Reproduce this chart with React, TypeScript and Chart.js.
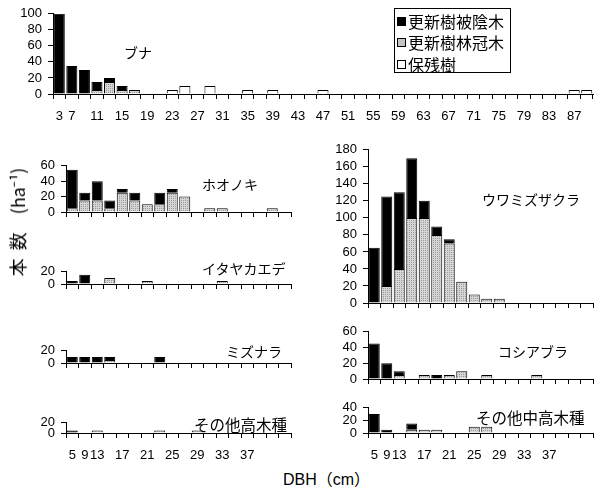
import React, { useEffect, useRef } from 'react';
import { Chart, registerables } from 'chart.js';
Chart.register(...registerables);

// ---------- data ----------
// ブナ (top panel), 43 DBH classes
const bunaTickLabels = ["3","7","","11","","15","","19","","23","","27","","31","","35","","39","","43","","47","","51","","55","","59","","63","","67","","71","","75","","79","","83","","87",""];
const bunaShade   = [100,35,30,10,5,5,0,0,0,0, 0,0,0,0,0,0,0,0,0,0, 0,0,0,0,0,0,0,0,0,0, 0,0,0,0,0,0,0,0,0,0, 0,0,0];
const bunaCanopy  = [0,0,0,5,15,5,5,0,0,0, 0,0,0,0,0,0,0,0,0,0, 0,0,0,0,0,0,0,0,0,0, 0,0,0,0,0,0,0,0,0,0, 0,0,0];
const bunaRemnant = [0,0,0,0,0,0,0,0,0,5, 10,0,10,0,0,5,0,5,0,0, 0,5,0,0,0,0,0,0,0,0, 0,0,0,0,0,0,0,0,0,0, 0,5,5];

// lower panels, 18 DBH classes
const lowerTickLabels = ["5","9","13","","17","","21","","25","","29","","33","","37","","",""];

const hoonokiShade  = [50,10,25,10,5,10,0,15,5,0,0,0,0,0,0,0,0,0];
const hoonokiCanopy = [5,15,15,5,25,15,10,10,25,20,0,5,5,0,0,0,5,0];

const itayaShade  = [5,15,0,0,0,0,0,0,0,0,0,0,0,0,0,0,0,0];
const itayaCanopy = [0,0,0,10,0,0,5,0,0,0,0,0,5,0,0,0,0,0];

const mizunaraShade  = [10,10,10,5,0,0,0,10,0,0,0,0,0,0,0,0,0,0];
const mizunaraCanopy = [0,0,0,5,0,0,0,0,0,0,0,0,0,0,0,0,0,0];

const otherTallShade  = [5,0,0,0,0,0,0,0,0,0,0,0,0,0,0,0,0,0];
const otherTallCanopy = [0,0,5,0,0,0,0,5,0,0,5,0,0,0,0,0,0,0];

const uwamizuShade  = [65,105,90,70,20,10,5,0,0,0,0,0,0,0,0,0,0,0];
const uwamizuCanopy = [0,20,40,100,100,80,70,25,10,5,5,0,0,0,0,0,0,0];

const koshiaburaShade  = [45,20,5,0,0,5,0,0,0,0,0,0,0,0,0,0,0,0];
const koshiaburaCanopy = [0,0,5,0,5,0,5,10,0,5,0,0,0,5,0,0,0,0];

const otherMidShade  = [30,5,0,10,0,0,0,0,0,0,0,0,0,0,0,0,0,0];
const otherMidCanopy = [0,0,0,5,5,5,0,0,10,10,0,0,0,0,0,0,0,0];

const legendLabels = ["更新樹被陰木", "更新樹林冠木", "保残樹"];

// ---------- drawing ----------
const TICK_FONT = { family: '"Liberation Sans", Arial, sans-serif', size: 13 };
const JP = '"Noto Sans CJK JP", sans-serif';

type Area = { l: number; t: number; r: number; b: number };
type PanelProps = {
  labels: string[];
  shade: number[];
  canopy: number[];
  remnant?: number[];
  yMax: number;
  area: Area;
  showX: boolean;
};

function makeGrey(ctx: CanvasRenderingContext2D): CanvasPattern | string {
  const p = document.createElement('canvas');
  p.width = 2; p.height = 2;
  const c = p.getContext('2d');
  if (!c) return '#c4c4c4';
  c.fillStyle = '#d6d6d6';
  c.fillRect(0, 0, 2, 2);
  c.fillStyle = '#9a9a9a';
  c.fillRect(0, 0, 1, 1);
  return ctx.createPattern(p, 'repeat') || '#c4c4c4';
}

const z = (v: number) => (v === 0 ? null : v);

function Panel(p: PanelProps) {
  const ref = useRef<HTMLCanvasElement>(null);
  const W = 45, PT = 10, PR = 8;
  const XH = p.showX ? 32 : 14;
  const left = p.area.l - W;
  const top = p.area.t - PT;
  const width = (p.area.r - p.area.l) + W + PR;
  const height = (p.area.b - p.area.t) + PT + XH;

  useEffect(() => {
    const cv = ref.current;
    if (!cv) return;
    const ctx = cv.getContext('2d');
    if (!ctx) return;
    const grey = makeGrey(ctx);
    const common = { borderColor: '#000', borderWidth: 1, barPercentage: 0.88, categoryPercentage: 1 };
    const datasets: any[] = [
      { label: legendLabels[1], data: p.canopy.map(z), backgroundColor: grey, ...common },
      { label: legendLabels[0], data: p.shade.map(z), backgroundColor: '#000', ...common },
    ];
    if (p.remnant) datasets.push({ label: legendLabels[2], data: p.remnant.map(z), backgroundColor: '#fff', ...common });
    const chart = new Chart(ctx, {
      type: 'bar',
      data: { labels: p.labels, datasets },
      options: {
        responsive: false,
        maintainAspectRatio: false,
        animation: false,
        devicePixelRatio: 1,
        layout: { padding: { top: PT, right: PR, left: 0, bottom: 0 } },
        plugins: { legend: { display: false }, tooltip: { enabled: false }, title: { display: false } },
        scales: {
          x: {
            stacked: true,
            grid: { display: true, drawOnChartArea: false, drawTicks: true, tickLength: 5, color: '#000', lineWidth: 1, offset: true },
            border: { display: true, color: '#000', width: 1 },
            ticks: { display: p.showX, autoSkip: false, maxRotation: 0, minRotation: 0, padding: 10, color: '#000', font: TICK_FONT },
            afterFit: (s: any) => { s.height = XH; },
          },
          y: {
            stacked: true,
            min: 0,
            max: p.yMax,
            grid: { display: true, drawOnChartArea: false, drawTicks: true, tickLength: 5, color: '#000', lineWidth: 1 },
            border: { display: true, color: '#000', width: 1 },
            ticks: { stepSize: 20, autoSkip: false, padding: 6, color: '#000', font: TICK_FONT },
            afterFit: (s: any) => { s.width = W; },
          },
        },
      } as any,
    });
    return () => chart.destroy();
  }, []);

  return (
    <canvas
      ref={ref}
      width={width}
      height={height}
      style={{ position: 'absolute', left, top, width, height }}
    />
  );
}

function Label(props: { text: string; left: number; cy: number; size: number }) {
  return (
    <div
      style={{
        position: 'absolute',
        left: props.left,
        top: props.cy - props.size / 2,
        fontFamily: JP,
        fontSize: props.size,
        lineHeight: `${props.size}px`,
        whiteSpace: 'nowrap',
        color: '#000',
      }}
    >
      {props.text}
    </div>
  );
}

export default function App() {
  const legendMarks = ['#000', '#c4c4c4', '#fff'];
  const legendRows = [21, 42, 64];
  return (
    <div style={{ position: 'absolute', left: 0, top: 0, width: 605, height: 495, background: '#fff', overflow: 'hidden' }}>
      <Panel labels={bunaTickLabels} shade={bunaShade} canopy={bunaCanopy} remnant={bunaRemnant} yMax={100} area={{ l: 53, t: 10, r: 593, b: 94 }} showX={true} />

      <Panel labels={lowerTickLabels} shade={hoonokiShade} canopy={hoonokiCanopy} yMax={60} area={{ l: 66, t: 162, r: 291, b: 212 }} showX={false} />
      <Panel labels={lowerTickLabels} shade={itayaShade} canopy={itayaCanopy} yMax={20} area={{ l: 66, t: 268, r: 291, b: 284 }} showX={false} />
      <Panel labels={lowerTickLabels} shade={mizunaraShade} canopy={mizunaraCanopy} yMax={20} area={{ l: 66, t: 347, r: 291, b: 363 }} showX={false} />
      <Panel labels={lowerTickLabels} shade={otherTallShade} canopy={otherTallCanopy} yMax={20} area={{ l: 66, t: 419, r: 291, b: 433 }} showX={true} />

      <Panel labels={lowerTickLabels} shade={uwamizuShade} canopy={uwamizuCanopy} yMax={180} area={{ l: 368, t: 146, r: 593, b: 303 }} showX={false} />
      <Panel labels={lowerTickLabels} shade={koshiaburaShade} canopy={koshiaburaCanopy} yMax={60} area={{ l: 368, t: 328, r: 593, b: 379 }} showX={false} />
      <Panel labels={lowerTickLabels} shade={otherMidShade} canopy={otherMidCanopy} yMax={40} area={{ l: 368, t: 404, r: 593, b: 433 }} showX={true} />

      <Label text="ブナ" left={124} cy={52} size={14} />
      <Label text="ホオノキ" left={202} cy={184} size={14} />
      <Label text="イタヤカエデ" left={202} cy={268} size={14} />
      <Label text="ミズナラ" left={226} cy={351} size={14} />
      <Label text="その他高木種" left={194} cy={425} size={15.5} />
      <Label text="ウワミズザクラ" left={482} cy={199} size={14} />
      <Label text="コシアブラ" left={498} cy={351} size={14} />
      <Label text="その他中高木種" left={476} cy={418} size={15.5} />

      {/* legend */}
      <div style={{ position: 'absolute', left: 394, top: 8, width: 117, height: 65, boxSizing: 'border-box', border: '1px solid #000', background: '#fff' }} />
      {legendLabels.map((t, i) => (
        <React.Fragment key={t}>
          <div style={{ position: 'absolute', left: 397, top: legendRows[i] - 4.5, width: 9, height: 9, boxSizing: 'border-box', border: '1px solid #000', background: legendMarks[i] }} />
          <div style={{ position: 'absolute', left: 408, top: legendRows[i] - 8, fontFamily: JP, fontSize: 16, lineHeight: '16px', whiteSpace: 'nowrap', color: '#000' }}>{t}</div>
        </React.Fragment>
      ))}

      {/* y-axis title */}
      <div style={{ position: 'absolute', left: 17, top: 222, transform: 'translate(-50%, -50%) rotate(-90deg)', fontFamily: JP, fontSize: 18, lineHeight: '18px', whiteSpace: 'pre', color: '#000' }}>
        {'本  数　(ha⁻¹)'}
      </div>

      {/* x-axis title */}
      <div style={{ position: 'absolute', left: 283, top: 471, fontFamily: '"Liberation Sans", "Noto Sans CJK JP", sans-serif', fontSize: 16, lineHeight: '18px', whiteSpace: 'nowrap', color: '#000' }}>
        DBH（cm）
      </div>
    </div>
  );
}
